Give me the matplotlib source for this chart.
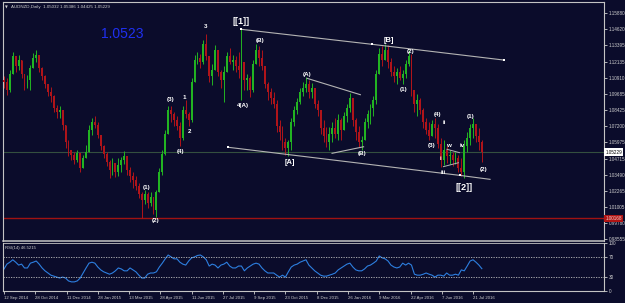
import matplotlib
matplotlib.use("Agg")
import matplotlib.pyplot as plt
import matplotlib.transforms as mtransforms
import numpy as np

# ---------------- data ----------------
symbol_title = "AUDNZD,Daily  1.05032 1.05386 1.04425 1.05229"
big_quote = "1.0523"
rsi_title = "RSI(14) 46.5215"
date_labels = ["12 Sep 2014", "28 Oct 2014", "11 Dec 2014", "28 Jan 2015", "13 Mar 2015",
               "28 Apr 2015", "11 Jun 2015", "27 Jul 2015", "9 Sep 2015", "23 Oct 2015",
               "8 Dec 2015", "26 Jan 2016", "9 Mar 2016", "22 Apr 2016", "7 Jun 2016",
               "21 Jul 2016"]
price_ticks = [1.15880, 1.14620, 1.13395, 1.12135, 1.10910, 1.09685, 1.08425, 1.07200,
               1.05975, 1.04715, 1.03490, 1.02265, 1.01005, 0.99780, 0.98555]
last_price = 1.05229
support_price = 1.00168

first_open = 1.1073
close = [
    1.1058, 1.0997, 1.1119, 1.1257, 1.1180, 1.1226, 1.1119, 1.1028, 1.1073, 1.1165,
    1.1242, 1.1265, 1.1165, 1.1104, 1.1043, 1.0982, 1.0951, 1.0859, 1.0829, 1.0844,
    1.0729, 1.0599, 1.0538, 1.0500, 1.0462, 1.0515, 1.0401, 1.0477, 1.0523, 1.0691,
    1.0752, 1.0729, 1.0653, 1.0569, 1.0508, 1.0447, 1.0385, 1.0439, 1.0370, 1.0424,
    1.0462, 1.0492, 1.0385, 1.0340, 1.0309, 1.0263, 1.0202, 1.0156, 1.0202, 1.0133,
    1.0179, 1.0080, 1.0217, 1.0370, 1.0508, 1.0661, 1.0844, 1.0813, 1.0768, 1.0722,
    1.0630, 1.0844, 1.0813, 1.0768, 1.1058, 1.1226, 1.1242, 1.1211, 1.1349, 1.1257,
    1.1104, 1.1150, 1.1303, 1.1135, 1.1073, 1.1135, 1.1257, 1.1211, 1.1226, 1.1180,
    1.1150, 1.1211, 1.1073, 1.1089, 1.0997, 1.1196, 1.1303, 1.1242, 1.1180, 1.1043,
    1.0982, 1.0936, 1.0890, 1.0722, 1.0676, 1.0599, 1.0554, 1.0599, 1.0752, 1.0844,
    1.0905, 1.0982, 1.1012, 1.1043, 1.0982, 1.1012, 1.0890, 1.0844, 1.0706, 1.0645,
    1.0599, 1.0661, 1.0706, 1.0661, 1.0768, 1.0691, 1.0798, 1.0859, 1.0936, 1.0768,
    1.0676, 1.0599, 1.0615, 1.0752, 1.0813, 1.0859, 1.0921, 1.1119, 1.1272, 1.1226,
    1.1303, 1.1211, 1.1135, 1.1104, 1.1135, 1.1089, 1.1119, 1.1196, 1.1257, 1.0997,
    1.0890, 1.0921, 1.0844, 1.0752, 1.0691, 1.0645, 1.0737, 1.0706, 1.0584, 1.0462,
    1.0538, 1.0492, 1.0500, 1.0462, 1.0477, 1.0401, 1.0370, 1.0569, 1.0630, 1.0706,
    1.0737, 1.0645, 1.0599, 1.0523]
high = [
    1.1104, 1.1089, 1.1150, 1.1287, 1.1242, 1.1265, 1.1211, 1.1089, 1.1112, 1.1188,
    1.1280, 1.1303, 1.1265, 1.1173, 1.1112, 1.1035, 1.1020, 1.0959, 1.0882, 1.0875,
    1.0844, 1.0706, 1.0615, 1.0538, 1.0523, 1.0538, 1.0500, 1.0500, 1.0576, 1.0729,
    1.0783, 1.0798, 1.0752, 1.0653, 1.0576, 1.0523, 1.0462, 1.0477, 1.0439, 1.0477,
    1.0485, 1.0531, 1.0477, 1.0408, 1.0370, 1.0340, 1.0286, 1.0217, 1.0232, 1.0217,
    1.0217, 1.0171, 1.0232, 1.0401, 1.0538, 1.0691, 1.0875, 1.0875, 1.0829, 1.0798,
    1.0752, 1.0875, 1.0921, 1.0829, 1.1089, 1.1265, 1.1287, 1.1272, 1.1379, 1.1425,
    1.1226, 1.1196, 1.1341, 1.1257, 1.1150, 1.1180, 1.1287, 1.1318, 1.1265, 1.1257,
    1.1287, 1.1463, 1.1150, 1.1119, 1.1104, 1.1226, 1.1349, 1.1333, 1.1303, 1.1180,
    1.1058, 1.1012, 1.0982, 1.0921, 1.0768, 1.0722, 1.0630, 1.0615, 1.0783, 1.0875,
    1.0936, 1.1012, 1.1058, 1.1096, 1.1073, 1.1050, 1.0982, 1.0921, 1.0844, 1.0768,
    1.0714, 1.0714, 1.0752, 1.0783, 1.0813, 1.0783, 1.0829, 1.0890, 1.0974, 1.0890,
    1.0783, 1.0722, 1.0645, 1.0783, 1.0844, 1.0890, 1.0951, 1.1150, 1.1318, 1.1333,
    1.1349, 1.1341, 1.1242, 1.1180, 1.1165, 1.1180, 1.1150, 1.1226, 1.1303, 1.1272,
    1.0997, 1.0966, 1.0936, 1.0859, 1.0783, 1.0752, 1.0768, 1.0783, 1.0737, 1.0630,
    1.0615, 1.0569, 1.0538, 1.0523, 1.0523, 1.0500, 1.0477, 1.0615, 1.0676, 1.0737,
    1.0783, 1.0737, 1.0706, 1.0615]
low = [
    1.1012, 1.0959, 1.0982, 1.1165, 1.1135, 1.1150, 1.1089, 1.0997, 1.1012, 1.0997,
    1.1165, 1.1211, 1.1135, 1.1073, 1.1012, 1.0951, 1.0905, 1.0829, 1.0783, 1.0783,
    1.0691, 1.0554, 1.0492, 1.0462, 1.0431, 1.0447, 1.0370, 1.0408, 1.0477, 1.0523,
    1.0653, 1.0706, 1.0630, 1.0538, 1.0477, 1.0416, 1.0324, 1.0347, 1.0332, 1.0340,
    1.0370, 1.0431, 1.0347, 1.0294, 1.0248, 1.0232, 1.0171, 1.0018, 1.0125, 1.0095,
    1.0110, 1.0049, 1.0026, 1.0232, 1.0347, 1.0500, 1.0691, 1.0752, 1.0722, 1.0691,
    1.0569, 1.0615, 1.0783, 1.0722, 1.0752, 1.1058, 1.1196, 1.1165, 1.1196, 1.1226,
    1.1058, 1.1035, 1.1165, 1.1104, 1.1012, 1.0905, 1.1135, 1.1196, 1.1150, 1.1135,
    1.1089, 1.0921, 1.0997, 1.0997, 1.0943, 1.0982, 1.1196, 1.1180, 1.1150, 1.1012,
    1.0921, 1.0890, 1.0859, 1.0676, 1.0615, 1.0538, 1.0500, 1.0492, 1.0538, 1.0722,
    1.0813, 1.0890, 1.0951, 1.0982, 1.0936, 1.0936, 1.0859, 1.0798, 1.0661, 1.0599,
    1.0561, 1.0538, 1.0599, 1.0630, 1.0615, 1.0615, 1.0691, 1.0752, 1.0829, 1.0722,
    1.0615, 1.0561, 1.0538, 1.0630, 1.0706, 1.0737, 1.0798, 1.0890, 1.1150, 1.1180,
    1.1226, 1.1165, 1.1104, 1.1058, 1.1043, 1.1073, 1.1043, 1.1089, 1.1180, 1.0951,
    1.0829, 1.0798, 1.0813, 1.0706, 1.0661, 1.0615, 1.0645, 1.0630, 1.0554, 1.0408,
    1.0424, 1.0439, 1.0431, 1.0416, 1.0431, 1.0370, 1.0340, 1.0324, 1.0523, 1.0576,
    1.0630, 1.0599, 1.0538, 1.0447]
rsi = [
    45.8, 56, 60, 65, 60, 54, 56, 48, 48, 58,
    60, 62.5, 56, 48, 42, 37.5, 33, 31, 29, 27,
    29, 27, 21, 19, 19, 21, 27, 37.5, 48, 58,
    60, 58, 50, 44, 40, 37.5, 35, 37.5, 42, 48,
    46, 42, 42, 48, 44, 40, 33, 27, 27, 35,
    37.5, 37.5, 40, 50, 58, 67, 75, 71, 67, 67,
    60, 56, 54, 62.5, 69, 71, 74, 75, 71, 65,
    52, 56, 54, 48, 54, 56, 60, 52, 48, 48,
    52, 52, 42, 48, 52, 56, 58, 56, 48, 42,
    37.5, 37.5, 37.5, 33, 29, 33, 29, 40, 50, 54,
    56, 60, 62.5, 65, 54, 48, 42, 37.5, 33, 31,
    31, 33, 35, 37.5, 44, 48, 52, 56, 58, 50,
    44, 42, 42, 46, 52, 54, 58, 62.5, 73, 69,
    67, 62.5, 54, 50, 48, 50, 58, 54, 58, 54,
    35, 33, 33, 35, 37.5, 35, 33, 29, 33, 33,
    31, 37.5, 33, 33, 35, 33, 44, 42, 52, 62.5,
    65, 60, 54, 46.5]

# Elliott-wave annotations: (text, trading day, price)
small_labels = [("3", 206.3, 1.1479), ("(B)", 262.5, 1.1379), ("(A)", 310.5, 1.1112),
                ("(3)", 170.6, 1.0921), ("1", 184.9, 1.0943), ("2", 190.0, 1.0676),
                ("4(A)", 245.1, 1.0875), ("(4)", 180.8, 1.0523), ("(1)", 146.1, 1.0248),
                ("(2)", 155.3, 0.9996), ("(2)", 415.7, 1.1295), ("(1)", 408.6, 1.0997),
                ("(4)", 443.3, 1.0813), ("ii", 450.5, 1.0752), ("(1)", 478.0, 1.0798),
                ("(3)", 437.2, 1.0576), ("w", 454.5, 1.0569), ("iv", 468.8, 1.0576),
                ("i", 446.4, 1.0477), ("iii", 449.4, 1.0370), ("(2)", 491.3, 1.0393),
                ("(B)", 366.7, 1.0508)]
mid_labels = [("[A]", 292.1, 1.0439), ("[B]", 393.3, 1.1372)]
big_labels = [("[[1]]", 242.1, 1.1517), ("[[2]]", 470.9, 1.0255)]

# trend lines (trading day, price)
upper_line_x = [242.8, 376.9, 511.4]
upper_line_y = [1.1461, 1.1346, 1.1226]
lower_line_x = [229.5, 466.8, 497.4]
lower_line_y = [1.0559, 1.0344, 1.0314]
a_line_x, a_line_y = [310.2, 364.7], [1.1086, 1.0961]
b_line_x, b_line_y = [335.7, 368.0], [1.0513, 1.0563]
w1_line_x, w1_line_y = [453.2, 466.1], [1.0544, 1.0518]
w2_line_x, w2_line_y = [449.7, 465.1], [1.0411, 1.0441]

# ---------------- style ----------------
BG = "#0b0c2b"
FG = "#cfcfcf"
BULL = "#22b422"
BEAR = "#b0141a"
FONT = "Liberation Sans"

W, H = 625, 303
fig = plt.figure(figsize=(W / 100, H / 100), dpi=100, facecolor=BG)

def px_axes(x0, y0, x1, y1):
    return fig.add_axes([x0 / W, 1 - y1 / H, (x1 - x0) / W, (y1 - y0) / H])

ax = px_axes(3, 2, 604, 241)
axr = px_axes(3, 243, 604, 291)
for a in (ax, axr):
    a.set_facecolor(BG)
    for s in a.spines.values():
        s.set_color("#c4c4c4")
        s.set_linewidth(0.8)
ax.spines["bottom"].set_linewidth(1.1)
axr.spines["top"].set_linewidth(0.6)

n = len(close)
days = np.arange(n) * 3.0
c = np.array(close)
o = np.concatenate([[first_open], c[:-1]])
h = np.maximum(np.array(high), np.maximum(o, c))
l = np.minimum(np.array(low), np.minimum(o, c))
up = c >= o
cols = np.where(up, BULL, BEAR)

xmin, xmax = -1.0, 614.0
ax.set_xlim(xmin, xmax)
ax.set_ylim(0.98426, 1.16697)

# reference lines
ax.axhline(last_price, color="#34503f", lw=0.8, zorder=1)
ax.axhline(support_price, color="#a01212", lw=1.0, zorder=1)

ax.vlines(days, l, h, colors=cols, lw=0.7, zorder=2)
body = np.where(np.abs(c - o) < 0.0003, 0.0003, c - o)
ax.bar(days, body, bottom=o, width=1.9, color=cols, linewidth=0, zorder=3)

# trend lines
lc = "#b4b4b4"
ax.plot(upper_line_x, upper_line_y, color=lc, lw=0.8, zorder=4)
ax.plot(lower_line_x, lower_line_y, color=lc, lw=0.8, zorder=4)
ax.plot(a_line_x, a_line_y, color=lc, lw=0.8, zorder=4)
ax.plot(b_line_x, b_line_y, color=lc, lw=0.8, zorder=4)
ax.plot(w1_line_x, w1_line_y, color=lc, lw=0.7, zorder=4)
ax.plot(w2_line_x, w2_line_y, color=lc, lw=0.7, zorder=4)
ax.plot(upper_line_x, upper_line_y, "s", color="white", ms=1.8, mew=0, zorder=5)
ax.plot(lower_line_x[:2], lower_line_y[:2], "s", color="white", ms=1.8, mew=0, zorder=5)

for txt, x, y in small_labels:
    ax.text(x, y, txt, color="white", fontsize=4.5, fontweight="bold", family=FONT,
            ha="center", va="center", zorder=6)
for txt, x, y in mid_labels:
    ax.text(x, y, txt, color="white", fontsize=5.4, fontweight="bold", family=FONT,
            ha="center", va="center", zorder=6)
for txt, x, y in big_labels:
    ax.text(x, y, txt, color="white", fontsize=6.6, fontweight="bold", family=FONT,
            ha="center", va="center", zorder=6)

ax.text(121.0 / 0.979 - 3, 1.1685 - 34 * 0.0007645, big_quote, color="#1f30f2",
        fontsize=10, family=FONT, ha="center", va="center")

# title
ax.text(0.004, 0.985, "\u25bc", transform=ax.transAxes, color=FG, fontsize=2.6,
        family="DejaVu Sans", ha="left", va="top")
ax.text(0.013, 0.988, symbol_title, transform=ax.transAxes, color=FG, fontsize=3.2,
        family=FONT, ha="left", va="top")

# right price axis
ax.yaxis.tick_right()
ax.set_yticks(price_ticks)
ax.set_yticklabels([f"{v:.5f}" for v in price_ticks])
ax.tick_params(axis="y", colors=FG, labelsize=3.3, length=2, width=0.6, pad=1.5)
for t in ax.get_yticklabels():
    t.set_family(FONT)
ax.set_xticks([])

trans = mtransforms.blended_transform_factory(ax.transAxes, ax.transData)
ax.text(1.002, last_price, f"{last_price:.5f}", transform=trans, color="black",
        fontsize=3.3, family=FONT, ha="left", va="center", zorder=7,
        bbox=dict(boxstyle="square,pad=0.25", fc="white", ec="none"))
ax.text(1.002, support_price, f"{support_price:.5f}", transform=trans, color="#f0d0d0",
        fontsize=3.3, family=FONT, ha="left", va="center", zorder=7,
        bbox=dict(boxstyle="square,pad=0.25", fc="#b01414", ec="none"))

# RSI panel
axr.set_xlim(xmin, xmax)
axr.set_ylim(0, 100)
axr.plot(days, rsi, color="#2d7fe0", lw=0.8)
for lev in (70, 30):
    axr.axhline(lev, color="#bdbdbd", lw=0.6, ls=(0, (1.5, 1.5)))
axr.yaxis.tick_right()
axr.set_yticks([100, 70, 30, 0])
axr.set_yticklabels(["100", "70", "30", "0"])
axr.tick_params(axis="y", colors=FG, labelsize=3.3, length=2, width=0.6, pad=1.5)
axr.set_xticks(np.arange(len(date_labels)) * 32.0)
axr.set_xticklabels(date_labels)
axr.tick_params(axis="x", colors=FG, labelsize=3.1, length=2, width=0.6, pad=1.5)
for t in axr.get_xticklabels() + axr.get_yticklabels():
    t.set_family(FONT)
for t in axr.get_xticklabels():
    t.set_ha("left")
axr.text(0.003, 0.93, rsi_title, transform=axr.transAxes, color=FG, fontsize=3.1,
         family=FONT, ha="left", va="top")

fig.savefig("out.png", dpi=100, facecolor=BG)
